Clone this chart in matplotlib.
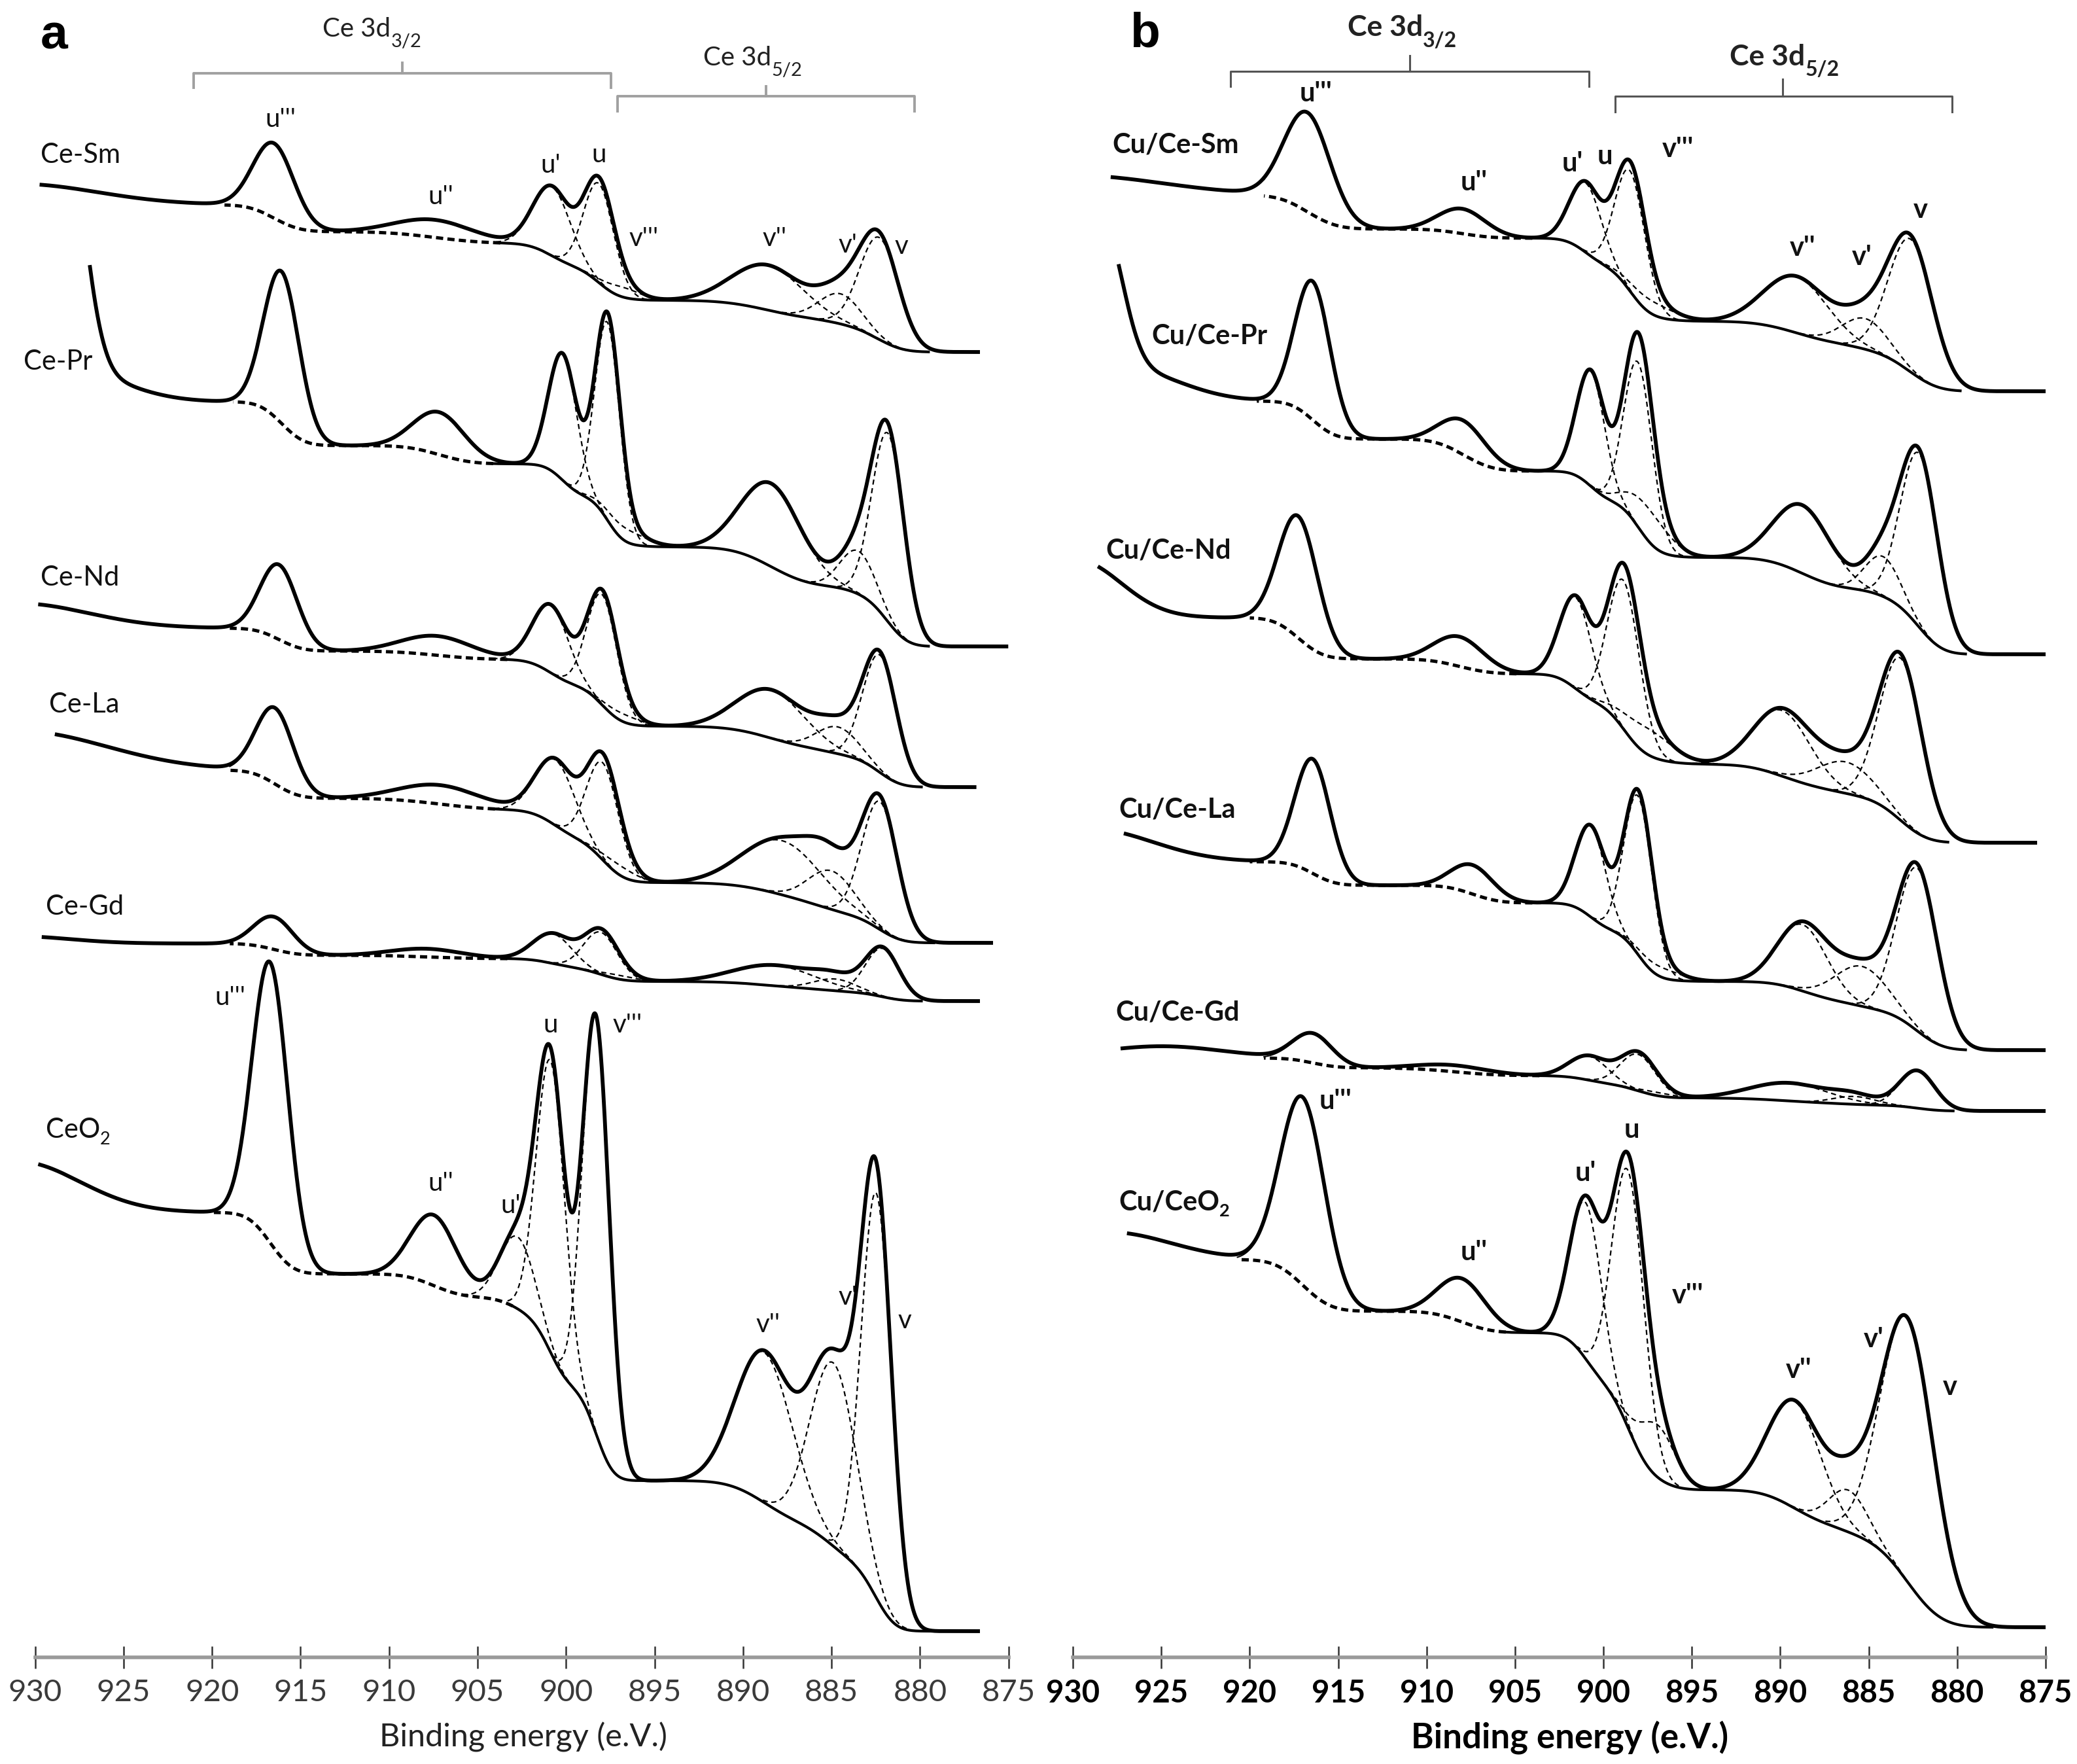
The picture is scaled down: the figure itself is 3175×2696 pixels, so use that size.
import numpy as np
import matplotlib.pyplot as plt

plt.rcParams['font.family'] = ['Lato', 'DejaVu Sans']

W, H, DPI = 3175, 2696, 200
AXIS_Y = 2533          # pixel row of the energy axis, intensity counted upward from it

E = np.arange(874.0, 932.0, 0.02)

peak_names = ["u'''", "u''", "u'", "u", "v'''", "v''", "v'", "v"]
# background region each component belongs to (0: v-group ... 3: u''')
peak_region = [3, 2, 1, 1, 1, 0, 0, 0]

# ---------------- panel a : Ce-M supports ----------------
a_names = ["Ce-Sm", "Ce-Pr", "Ce-Nd", "Ce-La", "Ce-Gd", "CeO"]
a_subs = ["", "", "", "", "", "2"]
a_lab_x = [929.7, 930.65, 929.7, 929.2, 929.4, 929.4]
a_lab_y = [2296, 1980, 1650, 1456, 1147, 806]
a_e_hi = [929.65, 926.9, 929.72, 928.78, 929.53, 929.72]
a_e_lo = [876.7, 875.1, 876.9, 875.97, 876.7, 876.7]
a_cen = [[916.5, 907.4, 900.8, 898.15, 896.8, 888.6, 884.5, 882.3],
         [916.07, 907.16, 900.19, 897.66, 896.7, 888.4, 883.5, 881.8],
         [916.22, 907.28, 900.86, 897.96, 896.8, 888.42, 884.65, 882.27],
         [916.44, 907.1, 900.6, 897.92, 897.0, 887.8, 885.0, 882.27],
         [916.52, 907.85, 900.75, 898.04, 897.0, 888.2, 884.8, 882.12],
         [916.71, 907.47, 902.75, 900.87, 898.3, 888.8, 884.9, 882.46]]
# apex intensity (None: component hidden under the envelope)
a_top = [[2314, 2197, 2249, 2263, None, 2128, None, 2179],
         [2118, 1903, 1993, 2056, None, 1794, None, 1886],
         [1670, 1561, 1609, 1632, None, 1479, None, 1538],
         [1451, 1333, 1374, 1382, None, 1254, None, 1318],
         [1132, 1083, 1107, 1114, None, 1058, None, 1086],
         [1062, 676, None, 932, 981, 469, None, 757]]
# component heights above background (used for the hidden ones)
a_hgt = [[115, 28, 100, 131, 15, 64, 46, 140],
         [215, 63, 190, 285, 20, 115, 66, 268],
         [115, 31, 100, 145, 12, 66, 41, 165],
         [105, 28, 88, 145, 15, 75, 59, 178],
         [46, 12, 40, 60, 6, 30, 18, 66],
         [420, 105, 110, 445, 640, 228, 280, 620]]
a_sig = [[1.15, 2.2, 1.05, 0.85, 1.0, 2.0, 1.2, 1.1],
         [1.0, 1.45, 0.8, 0.7, 1.2, 1.7, 1.0, 0.9],
         [1.05, 2.0, 1.0, 0.85, 1.0, 1.9, 1.2, 0.95],
         [1.05, 2.3, 1.1, 0.9, 1.0, 2.2, 1.3, 1.0],
         [1.1, 2.0, 1.1, 0.95, 1.0, 2.3, 1.2, 0.95],
         [1.0, 1.3, 1.0, 0.8, 0.75, 1.6, 1.3, 0.85]]
# background levels: low-BE end, 894 eV, 904 eV, 913.5 eV, high-BE side
a_lev = [[1995, 2074, 2161, 2179, 2220],
         [1545, 1697, 1824, 1852, 1919],
         [1330, 1423, 1525, 1538, 1573],
         [1092, 1184, 1295, 1313, 1356],
         [1003, 1033, 1068, 1073, 1091],
         [40, 270, 550, 586, 680]]
# rising intensity at the high-BE end (centre, width, height)
a_tail_c = [[931], [928.5, 928], [931], [931], [931], [931]]
a_tail_s = [[4.5], [1.15, 3.0], [4.0], [5.0], [3.0], [3.5]]
a_tail_h = [[32], [429, 46], [38], [60], [11], [78]]
a_bg_hi = [919.3, 918.8, 919.0, 919.0, 919.0, 919.9]
a_bg_split = [903.7, 904.1, 903.3, 904.0, 903.3, 903.0]
a_bg_lo = [879.5, 879.5, 879.9, 879.2, 879.9, 879.4]
a_tags_top_x = [916.14, 907.09, 900.87, 898.15, 895.6, 888.23, 884.08, 881.06]
a_tags_top_y = [2350, 2232, 2281, 2296, 2169, 2169, 2158, 2156]
a_tags_bot_x = [918.97, 907.09, 903.13, 900.87, 896.53, 888.6, 884.08, 880.87]
a_tags_bot_y = [1009, 725, 690, 967, 967, 508, 550, 515]

# ---------------- panel b : Cu/Ce-M catalysts ----------------
b_names = ["Cu/Ce-Sm", "Cu/Ce-Pr", "Cu/Ce-Nd", "Cu/Ce-La", "Cu/Ce-Gd", "Cu/CeO"]
b_subs = ["", "", "", "", "", "2"]
b_lab_x = [927.79, 925.54, 928.16, 927.4, 927.58, 927.4]
b_lab_y = [2312, 2019, 1692, 1295, 985, 696]
b_e_hi = [927.77, 927.4, 928.5, 927.03, 927.2, 926.84]
b_e_lo = [875.0, 875.0, 875.56, 875.0, 875.0, 875.0]
b_cen = [[916.73, 908.0, 901.0, 898.49, 897.3, 889.1, 885.2, 882.62],
         [916.44, 907.9, 900.72, 898.04, 897.5, 888.75, 884.2, 882.14],
         [917.25, 908.15, 901.57, 898.86, 897.5, 889.9, 886.3, 883.18],
         [916.44, 907.4, 900.72, 898.04, 896.8, 888.75, 885.4, 882.25],
         [916.44, 908.45, 900.83, 898.04, 897.0, 889.5, 885.8, 882.25],
         [917.0, 908.0, 901.0, 898.6, 896.93, 889.2, 886.15, 882.8]]
b_top = [[2361, 2214, 2256, 2287, None, 2111, None, 2174],
         [2103, 1890, 1968, 2025, None, 1761, None, 1847],
         [1744, 1560, 1623, 1672, None, 1451, None, 1534],
         [1373, 1211, 1272, 1326, None, 1125, None, 1213],
         [954, 905, 920, 926, None, 878, None, 897],
         [856, 579, 706, 770, None, 393, None, 519]]
b_hgt = [[150, 38, 90, 145, 20, 78, 47, 190],
         [195, 43, 170, 226, 50, 95, 61, 250],
         [165, 43, 125, 195, 40, 95, 48, 215],
         [170, 40, 125, 235, 15, 95, 61, 200],
         [46, 10, 34, 56, 5, 25, 12, 52],
         [265, 66, 240, 385, 80, 165, 64, 390]]
b_sig = [[1.3, 1.35, 0.9, 0.85, 1.3, 1.8, 1.3, 1.25],
         [1.0, 1.3, 0.8, 0.8, 1.2, 1.6, 1.0, 1.05],
         [1.1, 1.4, 0.9, 0.9, 1.4, 1.6, 1.6, 1.2],
         [1.0, 1.2, 0.85, 0.8, 1.2, 1.4, 1.5, 1.15],
         [1.1, 2.0, 1.1, 1.0, 1.0, 2.2, 1.2, 1.0],
         [1.25, 1.35, 0.9, 0.9, 1.0, 1.5, 1.1, 1.5]]
b_lev = [[1935, 2042, 2169, 2183, 2235],
         [1533, 1681, 1813, 1862, 1920],
         [1245, 1365, 1503, 1526, 1589],
         [928, 1033, 1153, 1180, 1216],
         [835, 855, 889, 901, 916],
         [46, 256, 496, 529, 608]]
b_tail_c = [[930], [928.3, 927], [929.8], [929], [925], [928]]
b_tail_s = [[5.0], [1.1, 3.0], [2.5], [3.5], [3.5], [3.5]]
b_tail_h = [[30], [222, 48], [88], [50], [18], [42]]
b_bg_hi = [919.2, 919.6, 920.0, 920.0, 919.2, 920.7]
b_bg_split = [904.0, 904.2, 904.9, 904.0, 903.6, 905.5]
b_bg_lo = [879.8, 879.5, 880.5, 879.5, 880.2, 878.0]
b_tags_top_x = [916.25, 907.33, 901.76, 899.9, 895.8, 888.75, 885.4, 882.06]
b_tags_top_y = [2390, 2254, 2283, 2294, 2305, 2154, 2140, 2212]
b_tags_bot_x = [915.14, 907.33, 901.0, 898.4, 895.25, 888.94, 884.7, 880.4]
b_tags_bot_y = [850, 619, 740, 806, 553, 439, 486, 413]

ticks = np.arange(930, 874, -5)


def gauss(x, c, s, h):
    return h * np.exp(-0.5 * ((x - c) / s) ** 2)


def shirley(peaks, lev):
    bg = np.full_like(E, float(lev[0]))
    for r in range(4):
        part = sum(peaks[i] for i in range(8) if peak_region[i] == r)
        cum = np.cumsum(part)
        bg += (lev[r + 1] - lev[r]) * cum / cum[-1]
    return bg


def fit_heights(cen, sig, hgt, top, lev, tail):
    # adjust visible components so the envelope passes through the read apexes
    h = np.array(hgt, dtype=float)
    free = [i for i in range(8) if top[i] is not None]
    fixed = [i for i in range(8) if top[i] is None]
    A = np.array([[gauss(cen[j], cen[i], sig[i], 1.0) for i in free] for j in free])
    for _ in range(25):
        peaks = [gauss(E, cen[i], sig[i], h[i]) for i in range(8)]
        bg = shirley(peaks, lev)
        rhs = []
        for j in free:
            rest = sum(h[i] * gauss(cen[j], cen[i], sig[i], 1.0) for i in fixed)
            rhs.append(top[j] - np.interp(cen[j], E, bg) - np.interp(cen[j], E, tail) - rest)
        h[free] = np.linalg.solve(A, np.array(rhs))
    return h


def draw_spectra(ax, names, subs, lab_x, lab_y, e_hi, e_lo, cen, top, hgt, sig, lev,
                 tail_c, tail_s, tail_h, bg_hi, bg_split, bg_lo, weight, fs):
    for k in range(len(names)):
        tail = sum(gauss(E, c, s, h) for c, s, h in zip(tail_c[k], tail_s[k], tail_h[k]))
        h = fit_heights(cen[k], sig[k], hgt[k], top[k], lev[k], tail)
        peaks = [gauss(E, cen[k][i], sig[k][i], h[i]) for i in range(8)]
        bg = shirley(peaks, lev[k])
        env = bg + sum(peaks)
        meas = env + tail

        m = (E >= e_lo[k]) & (E <= e_hi[k])
        ax.plot(E[m], meas[m], color='black', lw=2.1, solid_joinstyle='round', zorder=4)
        mf = (E >= bg_lo[k]) & (E <= bg_hi[k])
        ax.plot(E[mf], env[mf], color='black', lw=0.7, zorder=5)
        for i in range(2, 8):
            mc = (np.abs(E - cen[k][i]) < 3.2 * sig[k][i]) & mf
            ax.plot(E[mc], (bg + peaks[i])[mc], color='black', lw=0.8,
                    linestyle=(0, (3.5, 2.5)), zorder=3)
        ms = (E >= bg_lo[k]) & (E <= bg_split[k])
        md = (E >= bg_split[k]) & (E <= bg_hi[k])
        ax.plot(E[ms], bg[ms], color='black', lw=1.5, zorder=3)
        ax.plot(E[md], bg[md], color='black', lw=1.8, linestyle=(0, (2.2, 1.3)), zorder=3)

        t = ax.text(lab_x[k], lab_y[k], names[k], ha='left', va='center',
                    fontsize=fs, fontweight=weight, color='#111111')
        if subs[k]:
            ax.annotate(subs[k], xy=(1.0, 0.12), xycoords=t, ha='left', va='center',
                        fontsize=fs * 0.65, fontweight=weight, color='#111111')


def draw_tags(ax, xs, ys, weight, fs):
    for name, x, y in zip(peak_names, xs, ys):
        ax.text(x, y, name, ha='center', va='center', fontsize=fs,
                fontweight=weight, color='#111111')


def bracket(ax, left, right, mid, y_line, y_end, y_tip, txt_x, txt_y, sub,
            color, lw, weight, fs):
    ax.plot([left, left, right, right], [y_end, y_line, y_line, y_end],
            color=color, lw=lw, clip_on=False)
    ax.plot([mid, mid], [y_line, y_tip], color=color, lw=lw, clip_on=False)
    t = ax.text(txt_x, txt_y, "Ce 3d", ha='right', va='center', fontsize=fs,
                fontweight=weight, color='#222222')
    ax.annotate(sub, xy=(1.0, 0.0), xycoords=t, ha='left', va='center',
                fontsize=fs * 0.72, fontweight=weight, color='#222222')


fig = plt.figure(figsize=(W / DPI, H / DPI), dpi=DPI)
bottom = (H - AXIS_Y) / H
axa = fig.add_axes([53.7 / W, bottom, 1487.9 / W, AXIS_Y / H])
axb = fig.add_axes([1640.2 / W, bottom, 1486.6 / W, AXIS_Y / H])

for ax, tick_col, weight in ((axa, '#3a3a3a', 'normal'), (axb, 'black', 'bold')):
    ax.set_xlim(930, 875)
    ax.set_ylim(0, AXIS_Y)
    ax.patch.set_visible(False)
    for s in ('top', 'left', 'right'):
        ax.spines[s].set_visible(False)
    ax.spines['bottom'].set_color('#9a9a9a')
    ax.spines['bottom'].set_linewidth(2.0)
    ax.set_yticks([])
    ax.set_xticks(ticks)
    ax.set_xticklabels([str(v) for v in ticks])
    ax.tick_params(axis='x', direction='inout', length=12, width=0.9,
                   color='#333333', pad=6, labelsize=17, labelcolor=tick_col)
    for lbl in ax.get_xticklabels():
        lbl.set_fontweight(weight)

draw_spectra(axa, a_names, a_subs, a_lab_x, a_lab_y, a_e_hi, a_e_lo, a_cen, a_top,
             a_hgt, a_sig, a_lev, a_tail_c, a_tail_s, a_tail_h, a_bg_hi, a_bg_split,
             a_bg_lo, 'normal', 15)
draw_tags(axa, a_tags_top_x, a_tags_top_y, 'normal', 14.5)
draw_tags(axa, a_tags_bot_x, a_tags_bot_y, 'normal', 14.5)
bracket(axa, 921.04, 897.45, 909.25, 2421, 2399, 2437, 909.9, 2488, "3/2",
        '#a0a0a0', 1.4, 'normal', 14.5)
bracket(axa, 897.1, 880.3, 888.7, 2386, 2363, 2401, 888.4, 2444, "5/2",
        '#a0a0a0', 1.4, 'normal', 14.5)
axa.text(928.92, 2478, "a", ha='center', va='center', fontsize=27,
         fontweight='bold', family='Liberation Sans')

draw_spectra(axb, b_names, b_subs, b_lab_x, b_lab_y, b_e_hi, b_e_lo, b_cen, b_top,
             b_hgt, b_sig, b_lev, b_tail_c, b_tail_s, b_tail_h, b_bg_hi, b_bg_split,
             b_bg_lo, 'bold', 15)
draw_tags(axb, b_tags_top_x, b_tags_top_y, 'bold', 15)
draw_tags(axb, b_tags_bot_x, b_tags_bot_y, 'bold', 15)
bracket(axb, 921.09, 900.83, 910.94, 2424, 2401, 2448, 910.2, 2491, "3/2",
        '#555555', 1.1, 'bold', 16)
bracket(axb, 899.34, 880.28, 889.86, 2386, 2362, 2412, 888.6, 2446, "5/2",
        '#555555', 1.1, 'bold', 16)
axb.text(925.94, 2481, "b", ha='center', va='center', fontsize=27,
         fontweight='bold', family='Liberation Sans')

fig.text(800 / W, 1 - 2655 / H, "Binding energy (e.V.)", ha='center', va='center',
         fontsize=17.5, color='#222222')
fig.text(2400 / W, 1 - 2655 / H, "Binding energy (e.V.)", ha='center', va='center',
         fontsize=19, fontweight='bold', color='black')

fig.savefig("out.png", dpi=DPI)
